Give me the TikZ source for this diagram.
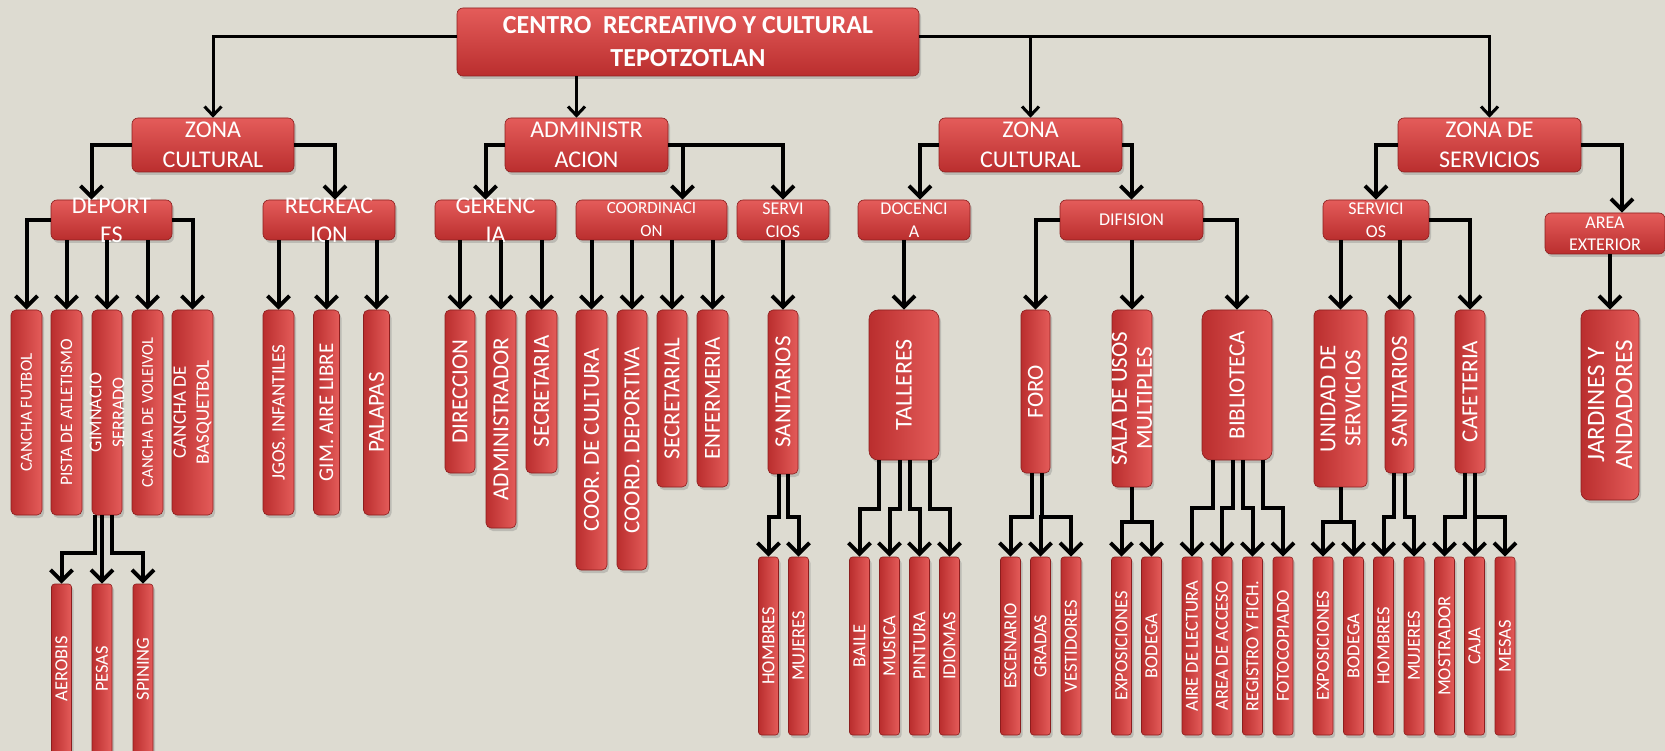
\documentclass[tikz,border=0pt]{standalone}
\usepackage{fontspec}
\setmainfont{Carlito}
\usetikzlibrary{arrows.meta,shadows}

\definecolor{fondo}{RGB}{221,219,209}
\definecolor{rojoalto}{RGB}{228,92,90}
\definecolor{rojobajo}{RGB}{186,46,46}
\definecolor{rojoborde}{RGB}{140,30,30}

\tikzset{
  caja/.style={rounded corners=6pt, draw=rojoborde, line width=0.6pt,
    top color=rojoalto, bottom color=rojobajo, inner sep=0pt,
    drop shadow={opacity=0.35,shadow xshift=2pt,shadow yshift=-3pt}},
  uno/.style={caja, minimum height=54pt},
  dos/.style={caja, minimum height=40pt},
  barra/.style={caja, rounded corners=5pt, left color=rojobajo, right color=rojoalto, minimum width=30pt},
  hoja/.style={barra, rounded corners=3pt, minimum width=20pt, minimum height=178pt},
  txt/.style={text=white, align=center, inner sep=0pt},
  tzona/.style={txt, font=\fontsize{24}{30}\selectfont},
  tsub/.style={txt, font=\fontsize{18}{23}\selectfont},
  tver/.style={txt, rotate=90, font=\fontsize{23}{25}\selectfont},
  thoja/.style={txt, rotate=90, font=\fontsize{18.5}{20}\selectfont},
  flecha/.style={line width=4pt, -{Straight Barb[length=11pt,width=22pt]}},
  flechat/.style={line width=3pt, -{Straight Barb[length=9pt,width=17pt]}},
}

\begin{document}
\begin{tikzpicture}[x=1pt,y=-1pt]
\useasboundingbox (0,0) rectangle (1665,751);
\fill[fondo] (0,0) rectangle (1665,751);

% raiz
\node (crt) [caja, minimum width=462pt, minimum height=68pt,
  label={[txt,font=\fontsize{26}{33}\selectfont\bfseries]center:CENTRO\ \ RECREATIVO Y CULTURAL\\TEPOTZOTLAN}] at (688,42) {};
\coordinate (lin) at (0,37);

% zonas
\node (zc1) [uno, minimum width=162pt, label={[tzona]center:ZONA\\CULTURAL}] at (213,145) {};
\node (adm) [uno, minimum width=163pt, label={[tzona]center:ADMINISTR\\ACION}] at (586.5,145) {};
\node (zc2) [uno, minimum width=183pt, label={[tzona]center:ZONA\\CULTURAL}] at (1030.5,145) {};
\node (zs)  [uno, minimum width=183pt, label={[tzona]center:ZONA DE\\SERVICIOS}] at (1489.5,145) {};

% segundo nivel
\node (dep) [dos, minimum width=121pt, label={[tzona,font=\fontsize{24}{29}\selectfont]center:DEPORT\\ES}] at (111.5,220) {};
\node (rec) [dos, minimum width=132pt, label={[tzona,font=\fontsize{24}{29}\selectfont]center:RECREAC\\ION}] at (329,220) {};
\node (ger) [dos, minimum width=121pt, label={[tzona,font=\fontsize{24}{29}\selectfont]center:GERENC\\IA}] at (495.5,220) {};
\node (coo) [dos, minimum width=151pt, label={[tsub,font=\fontsize{17}{23}\selectfont]center:COORDINACI\\ON}] at (651.5,220) {};
\node (ser) [dos, minimum width=92pt, label={[tsub]center:SERVI\\CIOS}] at (783,220) {};
\node (doc) [dos, minimum width=112pt, label={[tsub]center:DOCENCI\\A}] at (914,220) {};
\node (dif) [dos, minimum width=143pt, label={[tsub]center:DIFISION}] at (1131.5,220) {};
\node (ser2) [dos, minimum width=106pt, label={[tsub]center:SERVICI\\OS}] at (1376,220) {};
\node (area) [dos, minimum width=120pt, minimum height=41pt, label={[tsub,font=\fontsize{18}{22}\selectfont]center:AREA\\EXTERIOR}] at (1605,233.5) {};

% deportes y recreacion
\node (cf)  [barra, minimum width=31pt, minimum height=205pt, label={[tver,font=\fontsize{17}{20}\selectfont]center:CANCHA FUTBOL}] at (26.5,412.5) {};
\node (pa)  [barra, minimum width=31pt, minimum height=205pt, label={[tver,font=\fontsize{17.5}{20}\selectfont]center:PISTA DE ATLETISMO}] at (66.5,412.5) {};
\node (gim) [barra, minimum height=205pt, label={[tver,font=\fontsize{18}{23}\selectfont]center:GIMNACIO\\SERRADO}] at (107,412.5) {};
\node (cv)  [barra, minimum width=31pt, minimum height=205pt, label={[tver,font=\fontsize{16.5}{20}\selectfont]center:CANCHA DE VOLEIVOL}] at (147.5,412.5) {};
\node (cb)  [barra, minimum width=41pt, minimum height=205pt, label={[tver,font=\fontsize{19}{23}\selectfont]center:CANCHA DE\\BASQUETBOL}] at (192.5,412.5) {};
\node (ji)  [barra, minimum width=31pt, minimum height=205pt, label={[tver,font=\fontsize{19}{22}\selectfont]center:JGOS. INFANTILES}] at (278.5,412.5) {};
\node (ga)  [barra, minimum width=26pt, minimum height=205pt, label={[tver,font=\fontsize{21}{24}\selectfont]center:GIM. AIRE LIBRE}] at (326.5,412.5) {};
\node (pal) [barra, minimum width=26pt, minimum height=205pt, label={[tver]center:PALAPAS}] at (376.5,412.5) {};

% administracion
\node (dir) [barra, minimum height=163pt, label={[tver]center:DIRECCION}] at (460,391.5) {};
\node (adr) [barra, minimum height=218pt, label={[tver]center:ADMINISTRADOR}] at (501,419) {};
\node (sec) [barra, minimum width=31pt, minimum height=163pt, label={[tver]center:SECRETARIA}] at (541.5,391.5) {};
\node (ccu) [barra, minimum width=31pt, minimum height=260pt, label={[tver]center:COOR. DE CULTURA}] at (591.5,440) {};
\node (cde) [barra, minimum height=260pt, label={[tver]center:COORD. DEPORTIVA}] at (632,440) {};
\node (scl) [barra, minimum height=177pt, label={[tver]center:SECRETARIAL}] at (672,398.5) {};
\node (enf) [barra, minimum width=31pt, minimum height=177pt, label={[tver]center:ENFERMERIA}] at (712.5,398.5) {};
\node (san) [barra, minimum height=164pt, label={[tver]center:SANITARIOS}] at (783,392) {};

% zona cultural
\node (tal)  [barra, rounded corners=9pt, minimum width=70pt, minimum height=150pt, label={[tver,font=\fontsize{24}{28}\selectfont]center:TALLERES}] at (904,385) {};
\node (foro) [barra, minimum width=29pt, minimum height=163pt, label={[tver]center:FORO}] at (1035.5,391.5) {};
\node (sala) [barra, minimum width=40pt, minimum height=177pt, label={[tver]center:SALA DE USOS\\MULTIPLES}] at (1132,398.5) {};
\node (bib)  [barra, rounded corners=9pt, minimum width=70pt, minimum height=150pt, label={[tver]center:BIBLIOTECA}] at (1237,385) {};

% zona de servicios
\node (uni)  [barra, minimum width=53pt, minimum height=177pt, label={[tver]center:UNIDAD DE\\SERVICIOS}] at (1340.5,398.5) {};
\node (san2) [barra, minimum width=29pt, minimum height=163pt, label={[tver]center:SANITARIOS}] at (1399.5,391.5) {};
\node (caf)  [barra, minimum height=163pt, label={[tver]center:CAFETERIA}] at (1470,391.5) {};
\node (jar)  [barra, rounded corners=8pt, minimum width=58pt, minimum height=190pt, label={[tver,font=\fontsize{25}{28}\selectfont]center:JARDINES Y\\ANDADORES}] at (1610,405) {};

% ultimo nivel
\node (aer) [hoja, minimum height=170pt, label={[thoja]center:AEROBIS}] at (61.5,669) {};
\node (pes) [hoja, minimum height=170pt, label={[thoja]center:PESAS}] at (102,669) {};
\node (spi) [hoja, minimum height=170pt, label={[thoja]center:SPINING}] at (143,669) {};
\node (hom) [hoja, label={[thoja]center:HOMBRES}] at (768.5,646) {};
\node (muj) [hoja, label={[thoja]center:MUJERES}] at (798.5,646) {};
\node (bai) [hoja, label={[thoja]center:BAILE}] at (859.5,646) {};
\node (mus) [hoja, label={[thoja]center:MUSICA}] at (889.5,646) {};
\node (pin) [hoja, label={[thoja]center:PINTURA}] at (919.5,646) {};
\node (idi) [hoja, label={[thoja]center:IDIOMAS}] at (949.5,646) {};
\node (esc) [hoja, label={[thoja]center:ESCENARIO}] at (1010.5,646) {};
\node (gra) [hoja, label={[thoja]center:GRADAS}] at (1040.5,646) {};
\node (ves) [hoja, label={[thoja]center:VESTIDORES}] at (1071,646) {};
\node (exa) [hoja, label={[thoja]center:EXPOSICIONES}] at (1121.5,646) {};
\node (boa) [hoja, label={[thoja]center:BODEGA}] at (1151.5,646) {};
\node (ail) [hoja, label={[thoja]center:AIRE DE LECTURA}] at (1192,646) {};
\node (aac) [hoja, label={[thoja]center:AREA DE ACCESO}] at (1222,646) {};
\node (reg) [hoja, label={[thoja]center:REGISTRO Y FICH.}] at (1252.5,646) {};
\node (fot) [hoja, label={[thoja]center:FOTOCOPIADO}] at (1283,646) {};
\node (exb) [hoja, label={[thoja]center:EXPOSICIONES}] at (1323,646) {};
\node (bob) [hoja, label={[thoja]center:BODEGA}] at (1353.5,646) {};
\node (hob) [hoja, label={[thoja]center:HOMBRES}] at (1383.5,646) {};
\node (mub) [hoja, label={[thoja]center:MUJERES}] at (1414,646) {};
\node (mos) [hoja, label={[thoja]center:MOSTRADOR}] at (1444.5,646) {};
\node (caj) [hoja, label={[thoja]center:CAJA}] at (1474.5,646) {};
\node (mes) [hoja, label={[thoja]center:MESAS}] at (1505,646) {};

% conectores de la raiz
\draw[flechat] (crt.west |- lin) -| (zc1.north);
\draw[flechat] (crt.east |- lin) -| (zs.north);
\draw[flechat] (zc2.north |- lin) -- (zc2.north);
\draw[flechat] ([xshift=-10pt]crt.south -| adm.north) -- ([xshift=-10pt]adm.north);

% zonas a segundo nivel
\draw[flecha] (zc1.west) -| ([xshift=-20pt]dep.north);
\draw[flecha] (zc1.east) -| ([xshift=6pt]rec.north);
\draw[flecha] (adm.west) -| ([xshift=-10pt]ger.north);
\draw[flecha] (adm.east) -| (ser.north);
\draw[flecha] ([xshift=31pt]coo.north |- adm.east) -- ([xshift=31pt]coo.north);
\draw[flecha] (zc2.west) -| ([xshift=6pt]doc.north);
\draw[flecha] (zc2.east) -| (dif.north);
\draw[flecha] (zs.west) -| (ser2.north);
\draw[flecha] (zs.east) -| ([xshift=17pt]area.north);

% segundo a tercer nivel
\draw[flecha] (dep.west) -| (cf.north);
\draw[flecha] (dep.south -| pa.north) -- (pa.north);
\draw[flecha] (dep.south -| gim.north) -- (gim.north);
\draw[flecha] (dep.south -| cv.north) -- (cv.north);
\draw[flecha] (dep.east) -| (cb.north);
\draw[flecha] (rec.south -| ji.north) -- (ji.north);
\draw[flecha] (rec.south -| ga.north) -- (ga.north);
\draw[flecha] (rec.south -| pal.north) -- (pal.north);
\draw[flecha] (ger.south -| dir.north) -- (dir.north);
\draw[flecha] (ger.south -| adr.north) -- (adr.north);
\draw[flecha] (ger.south -| sec.north) -- (sec.north);
\draw[flecha] (coo.south -| ccu.north) -- (ccu.north);
\draw[flecha] (coo.south -| cde.north) -- (cde.north);
\draw[flecha] (coo.south -| scl.north) -- (scl.north);
\draw[flecha] (coo.south -| enf.north) -- (enf.north);
\draw[flecha] (ser.south -| san.north) -- (san.north);
\draw[flecha] (doc.south -| tal.north) -- (tal.north);
\draw[flecha] (dif.west) -| (foro.north);
\draw[flecha] (dif.south -| sala.north) -- (sala.north);
\draw[flecha] (dif.east) -| (bib.north);
\draw[flecha] (ser2.south -| uni.north) -- (uni.north);
\draw[flecha] (ser2.south -| san2.north) -- (san2.north);
\draw[flecha] (ser2.east) -| (caf.north);
\draw[flecha] (area.south -| jar.north) -- (jar.north);

% tercer a cuarto nivel
\draw[flecha] ([xshift=-12pt]gim.south) -- ++(0,38) -| (aer.north);
\draw[flecha] ([xshift=-5pt]gim.south) -- ++(0,38) -| (pes.north);
\draw[flecha] ([xshift=5pt]gim.south) -- ++(0,38) -| (spi.north);
\draw[flecha] ([xshift=-4pt]san.south) -- ++(0,43) -| (hom.north);
\draw[flecha] ([xshift=5pt]san.south) -- ++(0,43) -| (muj.north);
\draw[flecha] ([xshift=-25pt]tal.south) -- ++(0,49) -| (bai.north);
\draw[flecha] ([xshift=-4pt]tal.south) -- ++(0,49) -| (mus.north);
\draw[flecha] ([xshift=6pt]tal.south) -- ++(0,49) -| (pin.north);
\draw[flecha] ([xshift=26pt]tal.south) -- ++(0,49) -| (idi.north);
\draw[flecha] ([xshift=-4pt]foro.south) -- ++(0,44) -| (esc.north);
\draw[flecha] ([xshift=6pt]foro.south) -- ++(0,44) -| (gra.north);
\draw[flecha] ([xshift=6pt]foro.south) -- ++(0,44) -| (ves.north);
\draw[flecha] (sala.south) -- ++(0,35) -| (exa.north);
\draw[flecha] (sala.south) -- ++(0,35) -| (boa.north);
\draw[flecha] ([xshift=-24pt]bib.south) -- ++(0,48) -| (ail.north);
\draw[flecha] ([xshift=-4pt]bib.south) -- ++(0,48) -| (aac.north);
\draw[flecha] ([xshift=6pt]bib.south) -- ++(0,48) -| (reg.north);
\draw[flecha] ([xshift=26pt]bib.south) -- ++(0,48) -| (fot.north);
\draw[flecha] (uni.south) -- ++(0,35) -| (exb.north);
\draw[flecha] (uni.south) -- ++(0,35) -| (bob.north);
\draw[flecha] ([xshift=-6pt]san2.south) -- ++(0,44) -| (hob.north);
\draw[flecha] ([xshift=5pt]san2.south) -- ++(0,44) -| (mub.north);
\draw[flecha] ([xshift=-5pt]caf.south) -- ++(0,44) -| (mos.north);
\draw[flecha] ([xshift=5pt]caf.south) -- ++(0,44) -| (caj.north);
\draw[flecha] ([xshift=5pt]caf.south) -- ++(0,44) -| (mes.north);
\end{tikzpicture}
\end{document}
